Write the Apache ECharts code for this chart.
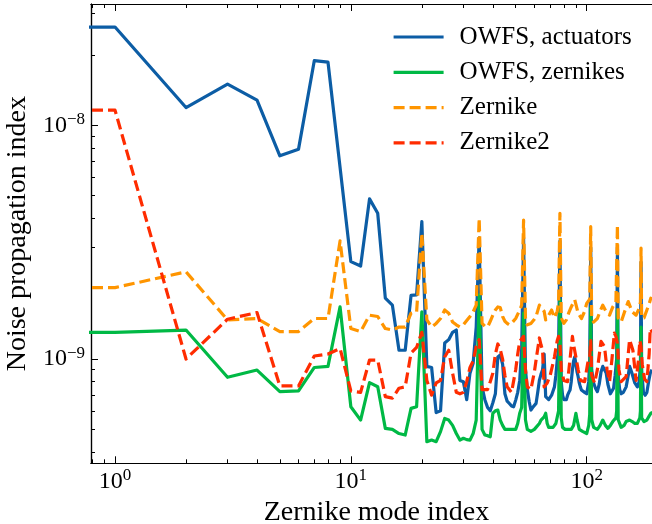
<!DOCTYPE html>
<html>
<head>
<meta charset="utf-8">
<script src="https://cdn.jsdelivr.net/npm/echarts@6/dist/echarts.min.js"></script>
<style>
  html, body { margin: 0; padding: 0; background: #fff; }
  #chart { width: 652px; height: 524px; }
</style>
</head>
<body>
<div id="chart"></div>
<script>
// values in units of 1e-9, x = Zernike mode index (0.5 stands in for the first mode, off-axis)
var SCALE = 1e-9;

var owfsActuators = [
    [0.5, 26.3], [1, 26.3], [2, 11.9], [3, 15.0], [4, 12.8], [5, 7.4], [6, 7.9], [7, 18.9], [8, 18.6], [9, 6.6],
    [10, 2.61], [11, 2.50], [12, 4.84], [13, 4.20], [14, 1.82], [15, 1.70], [16, 1.09], [17, 1.09], [18, 1.87], [19, 1.88],
    [20, 3.87], [21, 0.93], [22, 0.92], [23, 0.59], [24, 0.60], [25, 1.17], [26, 1.21], [27, 1.30], [28, 1.33], [29, 0.81],
    [30, 0.80], [31, 0.67], [32, 0.87], [33, 0.96], [34, 1.37], [35, 3.3], [36, 0.76], [37, 0.67], [38, 0.62], [39, 0.60],
    [40, 0.65], [41, 0.71], [42, 1.02], [43, 1.04], [44, 0.95], [45, 0.71], [46, 0.66], [47, 0.645], [48, 0.63], [49, 0.625],
    [50, 0.667], [51, 0.72], [52, 0.81], [53, 1.1], [54, 3.3], [55, 0.9], [56, 0.74], [57, 0.66], [58, 0.605], [59, 0.62],
    [60, 0.63], [61, 0.646], [62, 0.72], [63, 0.81], [64, 0.86], [65, 0.90], [66, 1.05], [67, 0.69], [68, 0.68], [69, 0.67],
    [70, 0.667], [71, 0.70], [72, 0.73], [73, 0.76], [74, 0.85], [75, 0.99], [76, 1.1], [77, 3.2], [78, 0.8], [79, 0.70],
    [80, 0.67], [81, 0.657], [82, 0.67], [83, 0.70], [84, 0.72], [85, 0.737], [86, 0.8], [87, 0.9], [88, 0.98], [89, 1.02],
    [90, 0.95], [91, 0.88], [92, 0.84], [93, 0.79], [94, 0.76], [95, 0.737], [96, 0.73], [98, 0.72], [100, 0.71], [102, 0.8],
    [103, 1.0], [104, 3.0], [105, 0.9], [107, 0.79], [109, 0.75], [111, 0.725], [113, 0.78], [115, 0.88], [117, 0.93], [119, 0.9],
    [121, 0.87], [123, 0.78], [126, 0.71], [128, 0.72], [130, 0.75], [132, 0.85], [134, 1.0], [135, 3.0], [136, 0.85], [138, 0.74],
    [140, 0.71], [143, 0.72], [147, 0.76], [150, 0.85], [152, 0.93], [155, 0.88], [160, 0.79], [164, 0.76], [167, 0.8], [169, 0.95],
    [170, 2.6], [171, 0.9], [174, 0.72], [177, 0.70], [180, 0.72], [183, 0.8], [186, 0.87], [189, 0.9]
];

var owfsZernikes = [
    [0.5, 1.30], [1, 1.30], [2, 1.33], [3, 0.835], [4, 0.897], [5, 0.725], [6, 0.73], [7, 0.92], [8, 0.93], [9, 1.67],
    [10, 0.625], [11, 0.548], [12, 0.792], [13, 0.761], [14, 0.505], [15, 0.50], [16, 0.48], [17, 0.473], [18, 0.615], [19, 0.625],
    [20, 1.59], [21, 0.443], [22, 0.45], [23, 0.443], [24, 0.489], [25, 0.557], [26, 0.548], [27, 0.52], [28, 0.48], [29, 0.45],
    [30, 0.458], [31, 0.452], [32, 0.45], [33, 0.48], [34, 0.548], [35, 1.88], [36, 0.50], [37, 0.473], [38, 0.47], [39, 0.465],
    [40, 0.586], [41, 0.60], [42, 0.605], [43, 0.548], [44, 0.52], [45, 0.50], [46, 0.50], [48, 0.50], [50, 0.50], [51, 0.53],
    [52, 0.586], [53, 0.62], [54, 1.57], [55, 0.55], [56, 0.50], [58, 0.49], [60, 0.50], [61, 0.51], [63, 0.53], [64, 0.548],
    [66, 0.566], [67, 0.586], [68, 0.53], [69, 0.51], [72, 0.51], [74, 0.53], [76, 0.6], [77, 1.79], [78, 0.56], [79, 0.51],
    [81, 0.50], [83, 0.50], [86, 0.50], [88, 0.52], [90, 0.586], [91, 0.55], [93, 0.50], [96, 0.49], [100, 0.48], [102, 0.52],
    [103, 0.58], [104, 1.65], [105, 0.55], [107, 0.51], [111, 0.50], [114, 0.52], [117, 0.548], [120, 0.52], [123, 0.505], [126, 0.52],
    [129, 0.54], [133, 0.56], [134, 0.6], [135, 1.62], [136, 0.55], [140, 0.51], [144, 0.52], [147, 0.54], [152, 0.548], [156, 0.54],
    [160, 0.53], [164, 0.53], [168, 0.56], [169, 0.6], [170, 1.37], [171, 0.56], [175, 0.54], [180, 0.548], [184, 0.57], [187, 0.586],
    [190, 0.59]
];

var zernike = [
    [0.5, 2.02], [1, 2.02], [2, 2.36], [3, 1.47], [4, 1.49], [5, 1.31], [6, 1.31], [7, 1.49], [8, 1.49], [9, 3.2],
    [10, 1.35], [11, 1.31], [12, 1.54], [13, 1.52], [14, 1.35], [15, 1.33], [16, 1.37], [17, 1.37], [18, 1.57], [19, 1.59],
    [20, 3.45], [21, 1.47], [22, 1.37], [23, 1.42], [24, 1.49], [25, 1.62], [26, 1.57], [27, 1.44], [28, 1.40], [29, 1.37],
    [30, 1.40], [31, 1.46], [32, 1.52], [33, 1.59], [34, 1.7], [35, 4.0], [36, 1.42], [37, 1.38], [38, 1.37], [39, 1.45],
    [40, 1.54], [41, 1.62], [42, 1.67], [43, 1.66], [44, 1.52], [45, 1.45], [46, 1.42], [47, 1.40], [48, 1.42], [50, 1.49],
    [52, 1.62], [53, 1.7], [54, 3.93], [55, 1.5], [56, 1.40], [58, 1.42], [60, 1.48], [61, 1.52], [63, 1.70], [64, 1.68],
    [66, 1.6], [67, 1.47], [69, 1.54], [71, 1.62], [72, 1.6], [73, 1.5], [75, 1.6], [76, 1.75], [77, 4.2], [78, 1.5],
    [80, 1.42], [82, 1.47], [84, 1.58], [86, 1.67], [89, 1.79], [92, 1.57], [95, 1.49], [98, 1.6], [100, 1.73], [103, 1.8],
    [104, 3.68], [105, 1.5], [107, 1.44], [111, 1.49], [114, 1.6], [117, 1.70], [121, 1.59], [125, 1.54], [129, 1.67], [133, 1.75],
    [135, 3.74], [136, 1.5], [140, 1.44], [145, 1.6], [150, 1.76], [156, 1.59], [162, 1.54], [167, 1.65], [169, 1.75], [170, 2.98],
    [171, 1.5], [175, 1.5], [180, 1.62], [184, 1.72], [187, 1.82], [190, 1.8]
];

var zernike2 = [
    [0.5, 11.6], [1, 11.6], [2, 1.0], [3, 1.48], [4, 1.58], [5, 0.767], [6, 0.767], [7, 1.03], [8, 1.05], [9, 1.11],
    [10, 0.73], [11, 0.72], [12, 0.99], [13, 0.99], [14, 0.69], [15, 0.68], [16, 0.75], [17, 0.76], [18, 1.06], [19, 1.12],
    [20, 1.3], [21, 0.81], [22, 0.70], [23, 0.79], [24, 0.81], [25, 1.02], [26, 1.09], [27, 0.87], [28, 0.72], [29, 0.71],
    [30, 0.72], [31, 0.80], [32, 0.92], [33, 0.98], [34, 1.13], [35, 1.21], [36, 0.74], [37, 0.74], [38, 0.74], [39, 0.8],
    [40, 0.87], [41, 1.05], [42, 1.16], [43, 1.1], [44, 1.0], [45, 0.85], [46, 0.76], [48, 0.72], [50, 0.90], [51, 1.05],
    [52, 1.19], [53, 1.2], [54, 1.25], [55, 0.9], [56, 0.76], [58, 0.74], [60, 0.88], [61, 0.99], [63, 1.23], [64, 1.15],
    [65, 1.09], [66, 0.76], [68, 0.79], [70, 0.85], [73, 1.02], [75, 1.2], [76, 1.25], [77, 1.17], [78, 0.9], [80, 0.81],
    [83, 0.80], [85, 1.0], [87, 1.25], [88, 1.15], [90, 1.02], [92, 0.9], [94, 0.81], [98, 0.80], [101, 0.96], [103, 1.02],
    [104, 1.2], [105, 0.85], [108, 0.79], [111, 0.9], [115, 1.19], [119, 1.13], [122, 0.9], [125, 0.80], [128, 1.0], [131, 1.29],
    [133, 1.25], [135, 1.17], [137, 0.9], [140, 0.80], [147, 0.84], [152, 1.21], [157, 1.09], [162, 0.81], [166, 1.0], [168, 1.2],
    [170, 1.13], [172, 0.95], [176, 0.82], [180, 0.80], [184, 1.05], [186, 1.35], [190, 1.3]
];

var seriesNames = ['OWFS, actuators', 'OWFS, zernikes', 'Zernike', 'Zernike2'];

var xMajor = [1, 10, 100];
var xMinor = [0.8, 0.9, 2, 3, 4, 5, 6, 7, 8, 9, 20, 30, 40, 50, 60, 70, 80, 90, 200];
var yMajor = [1e-9, 1e-8];
var yMinor = [4e-10, 5e-10, 6e-10, 7e-10, 8e-10, 9e-10, 2e-9, 3e-9, 4e-9, 5e-9, 6e-9, 7e-9, 8e-9, 9e-9, 2e-8, 3e-8];

var FONT = '"Liberation Serif", "DejaVu Serif", serif';
var X_MIN = 0.791, X_MAX = 208.6;
var Y_MIN = 3.58e-10, Y_MAX = 3.30e-8;

function scaled(arr) {
    return arr.map(function (p) { return [p[0], p[1] * SCALE]; });
}

function powLabel(v) {
    var e = Math.round(Math.log10(v));
    return '{b|10}{s|' + (e < 0 ? '\u2212' + (-e) : e) + '}';
}

var labelRich = {
    b: { fontFamily: FONT, fontSize: 24, color: '#000', lineHeight: 28 },
    s: { fontFamily: FONT, fontSize: 17, color: '#000', lineHeight: 16, verticalAlign: 'top' }
};

function xAxisDef(pos, major, show) {
    return {
        type: 'log', logBase: 10, min: X_MIN, max: X_MAX, position: pos,
        axisLine: { show: true, onZero: false, lineStyle: { color: '#000', width: 1.2 } },
        axisTick: { show: true, inside: true, length: major ? 7 : 4,
            customValues: major ? xMajor : xMinor, lineStyle: { color: '#000', width: 1 } },
        axisLabel: { show: show, margin: 4, customValues: xMajor, formatter: powLabel, rich: labelRich },
        splitLine: { show: false }, minorTick: { show: false }
    };
}

function yAxisDef(pos, major, show) {
    return {
        type: 'log', logBase: 10, min: Y_MIN, max: Y_MAX, position: pos,
        axisLine: { show: true, onZero: false, lineStyle: { color: '#000', width: 1.2 } },
        axisTick: { show: true, inside: true, length: major ? 7 : 4,
            customValues: major ? yMajor : yMinor, lineStyle: { color: '#000', width: 1 } },
        axisLabel: { show: show, margin: 6, customValues: yMajor, formatter: powLabel, rich: labelRich },
        splitLine: { show: false }, minorTick: { show: false }
    };
}

var chart = echarts.init(document.getElementById('chart'));

var xBottom = xAxisDef('bottom', true, true);
xBottom.name = 'Zernike mode index';
xBottom.nameLocation = 'middle';
xBottom.nameGap = 30;
xBottom.nameTextStyle = { fontFamily: FONT, fontSize: 28, color: '#000' };

var yLeft = yAxisDef('left', true, true);
yLeft.name = 'Noise propagation index';
yLeft.nameLocation = 'middle';
yLeft.nameGap = 57;
yLeft.nameTextStyle = { fontFamily: FONT, fontSize: 28, color: '#000' };

var colors = ['#0C5DA5', '#00B945', '#FF9500', '#FF2C00'];
var datasets = [owfsActuators, owfsZernikes, zernike, zernike2];
var dashed = [false, false, true, true];

var option = {
    animation: false,
    backgroundColor: '#fff',
    grid: { left: 91, top: 4, right: -10, bottom: 60.7, outerBoundsMode: 'none', containLabel: false },
    legend: {
        orient: 'vertical', left: 392, top: 24, padding: 0,
        itemWidth: 50, itemHeight: 14, itemGap: 9.3,
        itemStyle: { opacity: 0 },
        lineStyle: { width: 3.2 },
        textStyle: { fontFamily: FONT, fontSize: 25, color: '#000', lineHeight: 26, padding: [0, 0, 0, 11] },
        data: seriesNames
    },
    xAxis: [xBottom, xAxisDef('bottom', false, false), xAxisDef('top', true, false), xAxisDef('top', false, false)],
    yAxis: [yLeft, yAxisDef('left', false, false)],
    series: datasets.map(function (d, i) {
        return {
            name: seriesNames[i], type: 'line', xAxisIndex: 0, yAxisIndex: 0,
            data: scaled(d), symbol: 'none', showSymbol: false, clip: true,
            lineStyle: { color: colors[i], width: 3.2, type: dashed[i] ? [11, 5] : 'solid', cap: 'butt', join: 'round' },
            itemStyle: { color: colors[i] },
            z: 2 + i
        };
    })
};

chart.setOption(option);
</script>
</body>
</html>
